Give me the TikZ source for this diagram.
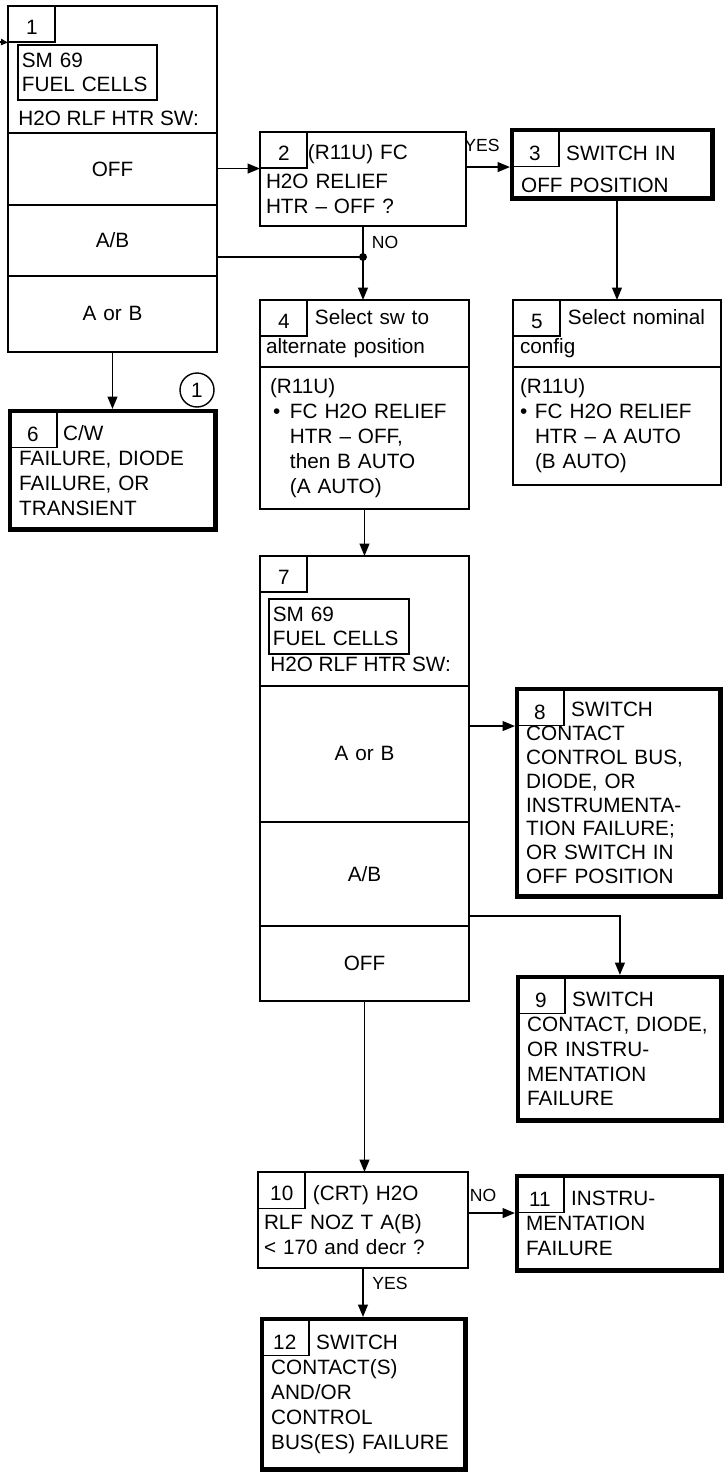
\documentclass[tikz,border=0pt]{standalone}
\usepackage{fontspec}
\setmainfont{Liberation Sans}
\usetikzlibrary{arrows.meta}

\begin{document}
\begin{tikzpicture}[x=0.02cm, y=-0.02cm,
  every node/.style={font=\fontsize{11.8}{14.2}\selectfont},
  box/.style={draw, line width=1pt, outer sep=0pt, anchor=north west, align=left, inner xsep=0.12cm, inner ysep=0pt},
  thk/.style={box, line width=2.5pt, outer sep=1.25pt, inner xsep=0.18cm},
  tab/.style={draw, line width=0.6pt, anchor=north west, minimum width=0.93cm, text height=0.56cm, text depth=0.15cm, inner sep=0pt},
  tabk/.style={tab, minimum width=0.97cm, text height=0.63cm, text depth=0.13cm},
  smbox/.style={draw, line width=1pt, anchor=north west, align=left, text width=2.62cm, inner xsep=0.08cm, inner ysep=1pt, minimum height=1.1cm},
  lbl/.style={font=\fontsize{10}{12}\selectfont, inner sep=1pt},
  arr/.style={line width=1pt, -{Triangle[length=7pt,width=5.5pt]}}]
  \useasboundingbox (0,0) rectangle (727,1473);
  % Box 1: switch reading on SM 69
  \node[box, text width=3.94cm, minimum height=2.54cm] (b1hd) at (8,6) {};
  \node[tab] (b1t) at (b1hd.north west) {1};
  \node[smbox] (b1sm) at (17,44) {SM 69\\FUEL CELLS};
  \node[anchor=west, inner sep=0pt] (b1sw) at (18,118) {H2O RLF HTR SW:};
  \node[box, text width=3.94cm, minimum height=1.44cm, align=center] (b1off) at (b1hd.south west) {OFF};
  \node[box, text width=3.94cm, minimum height=1.42cm, align=center] (b1ab) at (b1off.south west) {A/B};
  \node[box, text width=3.94cm, minimum height=1.52cm, align=center] (b1aorb) at (b1ab.south west) {A or B};
  % Boxes 2 and 3
  \node[box, text width=3.88cm, minimum height=1.88cm] (b2) at (260,132)
    {\hspace*{0.84cm}(R11U) FC\\[2pt]H2O RELIEF\\HTR -- OFF ?};
  \node[tab] (b2t) at (b2.north west) {2};
  \node[thk, text width=3.65cm, minimum height=1.37cm] (b3) at (510,128)
    {\rule{0pt}{14pt}\hspace*{0.9cm}SWITCH IN\\[4pt]OFF POSITION};
  \node[tabk] (b3t) at (b3.north west) {3};
  % Boxes 4 and 5
  \node[box, text width=3.94cm, minimum height=1.34cm] (b4hd) at (260,300)
    {\hspace*{0.98cm}Select sw to\\[2pt]alternate position};
  \node[tab] (b4t) at (b4hd.north west) {4};
  \node[box, text width=3.78cm, inner xsep=0.2cm, minimum height=2.84cm] (b4bd) at (b4hd.south west)
    {(R11U)\\\hspace*{0.06cm}\makebox[0.34cm][l]{\textbullet}FC H2O RELIEF\\\hspace*{0.4cm}HTR -- OFF,\\\hspace*{0.4cm}then B AUTO\\\hspace*{0.4cm}(A AUTO)};
  \node[box, text width=3.88cm, inner xsep=0.14cm, minimum height=1.34cm] (b5hd) at (513,300)
    {\hspace*{0.96cm}Select nominal\\[2pt]config};
  \node[tab] (b5t) at (b5hd.north west) {5};
  \node[box, text width=3.88cm, inner xsep=0.14cm, minimum height=2.36cm] (b5bd) at (b5hd.south west)
    {(R11U)\\\makebox[0.3cm][l]{\textbullet}FC H2O RELIEF\\\hspace*{0.3cm}HTR -- A AUTO\\\hspace*{0.3cm}(B AUTO)};
  % Box 6
  \node[thk, text width=3.75cm, minimum height=2.37cm] (b6) at (8,409)
    {\hspace*{0.88cm}C/W\\FAILURE, DIODE\\FAILURE, OR\\TRANSIENT};
  \node[tabk] (b6t) at (b6.north west) {6};
  \node[circle, draw, line width=0.8pt, minimum size=0.68cm, inner sep=0pt] (c1) at (197,390) {1};
  % Box 7: switch reading again
  \node[box, text width=3.94cm, minimum height=2.6cm] (b7hd) at (260,556) {};
  \node[tab] (b7t) at (b7hd.north west) {7};
  \node[smbox, text width=2.64cm] (b7sm) at (268,598) {SM 69\\FUEL CELLS};
  \node[anchor=west, inner sep=0pt] (b7sw) at (270,664) {H2O RLF HTR SW:};
  \node[box, text width=3.94cm, minimum height=2.72cm, align=center] (b7aorb) at (b7hd.south west) {A or B};
  \node[box, text width=3.94cm, minimum height=2.08cm, align=center] (b7ab) at (b7aorb.south west) {A/B};
  \node[box, text width=3.94cm, minimum height=1.5cm, align=center] (b7off) at (b7ab.south west) {OFF};
  % Boxes 8 and 9
  \node[thk, text width=3.71cm, minimum height=4.15cm, font=\fontsize{11.8}{13.6}\selectfont] (b8) at (515,687)
    {\hspace*{0.9cm}SWITCH\\CONTACT\\CONTROL BUS,\\DIODE, OR\\INSTRUMENTA-\\TION FAILURE;\\OR SWITCH IN\\OFF POSITION};
  \node[tabk] (b8t) at (b8.north west) {8};
  \node[thk, text width=3.71cm, minimum height=2.87cm] (b9) at (516,975)
    {\hspace*{0.9cm}SWITCH\\CONTACT, DIODE,\\OR INSTRU-\\MENTATION\\FAILURE};
  \node[tabk] (b9t) at (b9.north west) {9};
  % Boxes 10, 11 and 12
  \node[box, text width=3.96cm, minimum height=1.92cm] (b10) at (258,1172)
    {\hspace*{0.98cm}(CRT) H2O\\[2pt]RLF NOZ T A(B)\\< 170 and decr ?};
  \node[tab] (b10t) at (b10.north west) {10};
  \node[thk, text width=3.73cm, minimum height=1.89cm] (b11) at (515,1174)
    {\hspace*{0.9cm}INSTRU-\\MENTATION\\FAILURE};
  \node[tabk] (b11t) at (b11.north west) {11};
  \node[thk, text width=3.71cm, minimum height=3.01cm] (b12) at (260,1317)
    {\hspace*{0.9cm}SWITCH\\CONTACT(S)\\AND/OR\\CONTROL\\BUS(ES) FAILURE};
  \node[tabk] (b12t) at (b12.north west) {12};
  % Connectors
  \coordinate (in1) at (0,42);
  \draw[line width=1pt, -{Triangle[length=4pt,width=3.5pt]}] (in1) -- (b1t.south west);
  \draw[arr] (b1off.east |- b2t.south west) -- (b2t.south west);
  \draw[arr] (b2.east |- b3t.south west) -- (b3t.south west);
  \node[lbl] (yes1) at (482,145) {YES};
  \draw[arr] (b3.south -| b5hd.north) -- (b5hd.north);
  \coordinate (jn) at (363,257);
  \draw[line width=1pt] (b1ab.east |- jn) -- (jn);
  \fill (jn) circle (0.08cm);
  \draw[arr] (b2.south) -- (b2.south |- b4hd.north);
  \node[lbl] (no1) at (385,242) {NO};
  \draw[arr] (b1aorb.south) -- (b1aorb.south |- b6.north);
  \draw[arr] (b4bd.south) -- (b4bd.south |- b7hd.north);
  \draw[arr] (b7aorb.east |- b8t.south west) -- (b8t.south west);
  \coordinate (k9) at (620,916);
  \draw[arr] (b7ab.east |- k9) -| (b9.north);
  \draw[arr] (b7off.south) -- (b7off.south |- b10.north);
  \draw[arr] (b10.east |- b11t.south west) -- (b11t.south west);
  \node[lbl] (no2) at (483,1195) {NO};
  \draw[arr] (b10.south) -- (b10.south |- b12.north);
  \node[lbl] (yes2) at (390,1283) {YES};
\end{tikzpicture}
\end{document}
